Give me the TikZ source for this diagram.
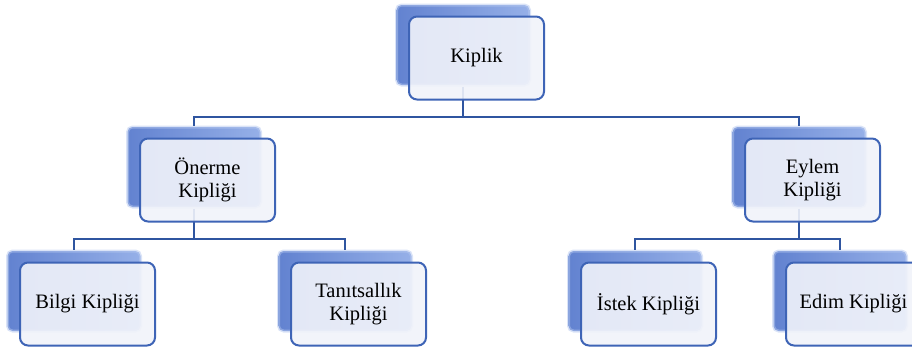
\documentclass[tikz,border=0pt]{standalone}
\usepackage{fontspec}
\setmainfont{Liberation Serif}
\usepackage{tikz}
\usetikzlibrary{positioning}
\definecolor{linkblue}{RGB}{47,85,160}
\definecolor{edgeblue}{RGB}{62,100,182}
\definecolor{paleback}{RGB}{241,243,250}
\definecolor{shadeA}{RGB}{98,130,208}
\definecolor{shadeB}{RGB}{150,176,232}

\begin{document}
\begin{tikzpicture}[x=1pt, y=-1pt,
    backbox/.style={rectangle, rounded corners=5pt, minimum width=133pt, minimum height=80pt,
        left color=shadeA, right color=shadeB, draw=shadeB!70, draw opacity=0.5, line width=3pt, inner sep=0pt},
    frontbox/.style={rectangle, rounded corners=8pt, minimum width=135pt, minimum height=83pt,
        draw=edgeblue, line width=2pt, fill=paleback, fill opacity=0.9, text opacity=1,
        align=center, font=\fontsize{20.5}{23}\selectfont},
    conn/.style={draw=linkblue, line width=2pt}]
    \useasboundingbox (0,0) rectangle (912,351);

    % Back boxes
    \node[backbox] (kb) at (463,45) {};
    \node[backbox] (ob) at (194,167) {};
    \node[backbox] (eb) at (799,167) {};
    \node[backbox] (bb) at (74,291) {};
    \node[backbox] (tb) at (345,291) {};
    \node[backbox] (ib) at (635,291) {};
    \node[backbox] (db) at (840,291) {};

    % Connectors
    \draw[conn] (kb.south) -- ++(0,30) coordinate (kbus) -| (ob.north);
    \draw[conn] (kbus) -| (eb.north);
    \draw[conn] (ob.south) -- ++(0,30) coordinate (obus) -| (bb.north);
    \draw[conn] (obus) -| (tb.north);
    \draw[conn] (eb.south) -- ++(0,30) coordinate (ebus) -| (ib.north);
    \draw[conn] (ebus) -| (db.north);

    % Front boxes
    \node[frontbox, anchor=north west] (kiplik) at ([shift={(13,12)}]kb.north west) {Kiplik};
    \node[frontbox, anchor=north west] (onerme) at ([shift={(13,12)}]ob.north west) {Önerme\\Kipliği};
    \node[frontbox, anchor=north west] (eylem) at ([shift={(13,12)}]eb.north west) {Eylem\\Kipliği};
    \node[frontbox, anchor=north west] (bilgi) at ([shift={(13,12)}]bb.north west) {Bilgi Kipliği};
    \node[frontbox, anchor=north west] (tanit) at ([shift={(13,12)}]tb.north west) {Tanıtsallık\\Kipliği};
    \node[frontbox, anchor=north west] (istek) at ([shift={(13,12)}]ib.north west) {İstek Kipliği};
    \node[frontbox, anchor=north west] (edim) at ([shift={(13,12)}]db.north west) {Edim Kipliği};
\end{tikzpicture}
\end{document}
